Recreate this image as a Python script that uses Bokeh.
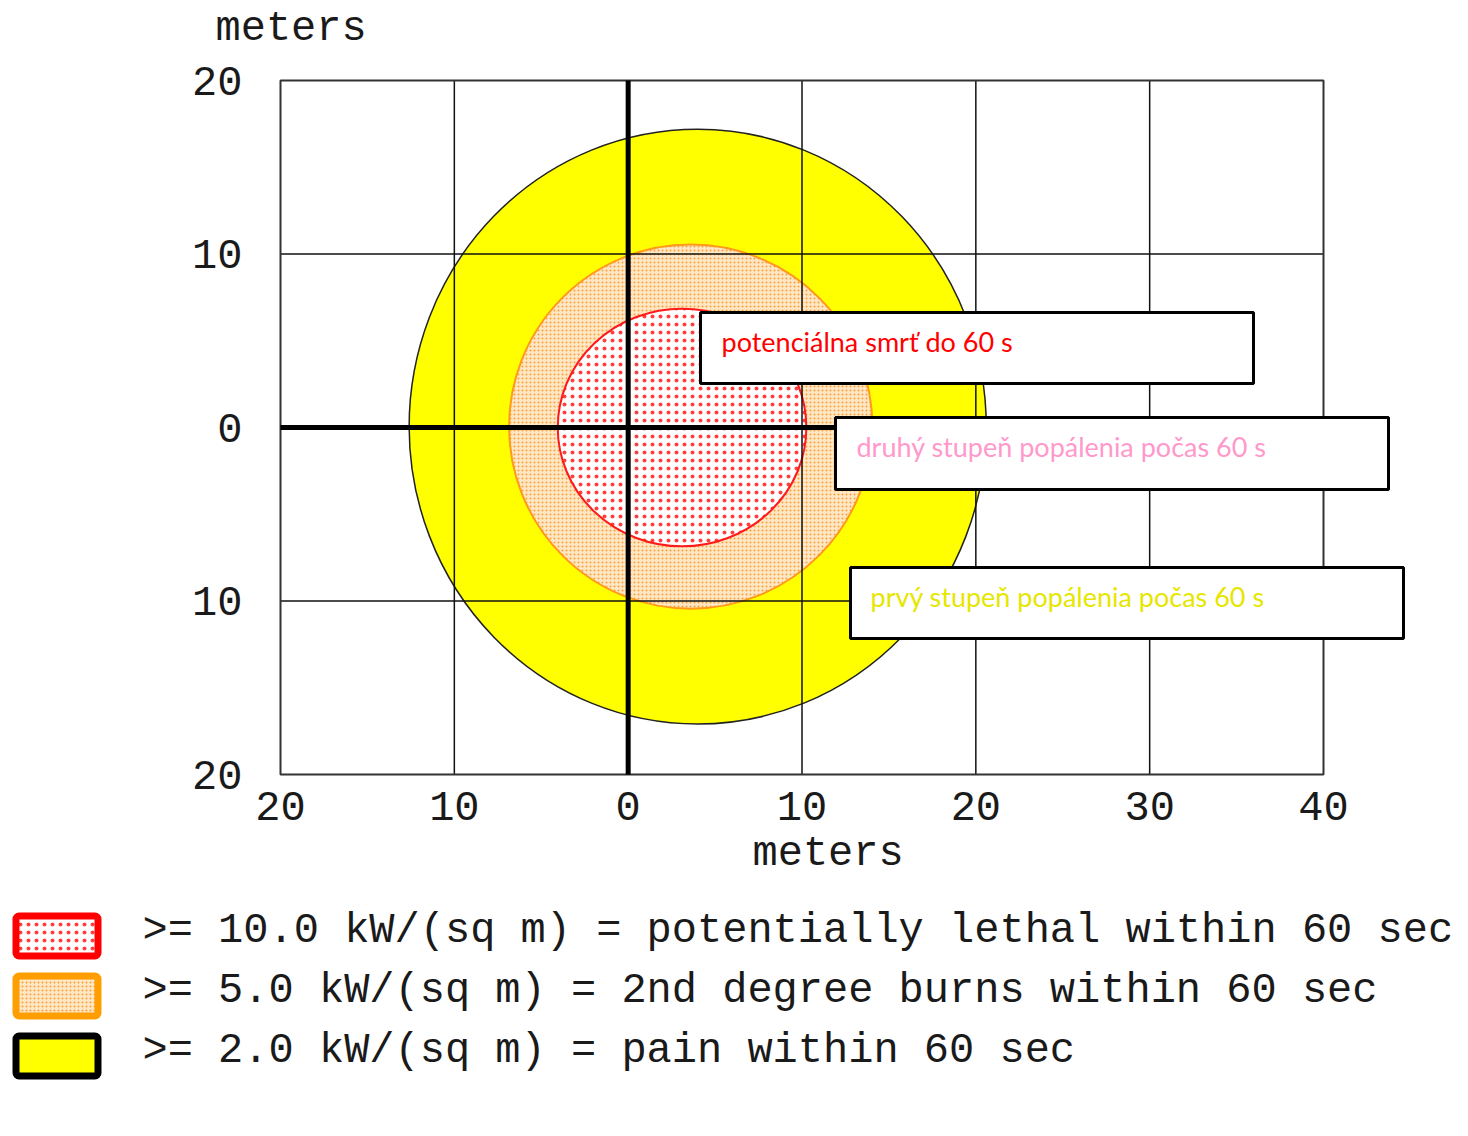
from bokeh.plotting import figure
from bokeh.models import Range1d, Label, BoxAnnotation, FixedTicker, LinearAxis
from bokeh.core.properties import value
from bokeh.embed import file_html
from bokeh.resources import INLINE

# ---------------- data ----------------
x_ticks = [-20, -10, 0, 10, 20, 30, 40]
x_tick_labels = ["20", "10", "0", "10", "20", "30", "40"]
y_ticks = [-20, -10, 0, 10, 20]
y_tick_labels = ["20", "10", "0", "10", "20"]

# threat zones (kW/m2 thresholds), outer to inner, ellipse fits
zone_threshold = [2.0, 5.0, 10.0]
zone_cx = [4.0, 3.6, 3.1]
zone_cy = [0.05, 0.05, 0.0]
zone_width = [33.2, 20.9, 14.3]
zone_height = [34.3, 21.0, 13.7]

legend_texts = [
    ">= 10.0 kW/(sq m) = potentially lethal within 60 sec",
    ">= 5.0 kW/(sq m) = 2nd degree burns within 60 sec",
    ">= 2.0 kW/(sq m) = pain within 60 sec",
]
note_texts = [
    "potenciálna smrť do 60 s",
    "druhý stupeň popálenia počas 60 s",
    "prvý stupeň popálenia počas 60 s",
]
axis_title = "meters"

# ---------------- layout helpers (page pixels -> data) ----------------
W, H = 1460, 1128
FX0, FX40, FY0, FY1 = 280, 1323, 80, 774  # plot box in page pixels
XS = (FX40 - FX0) / 60.0
YS = (FY1 - FY0) / 40.0


def dx(px):
    return -20 + (px - FX0) / XS


def dy(py):
    return 20 - (py - FY0) / YS


MONO = "Liberation Mono"
TXT = "#1a1a1a"

p = figure(
    width=W, height=H, output_backend="svg", toolbar_location=None, title=None,
    x_range=Range1d(dx(0), dx(W)), y_range=Range1d(dy(H), dy(0)),
    x_axis_type=None, y_axis_type=None, min_border=0,
    background_fill_color="white", border_fill_color="white",
)
p.outline_line_color = None

xmin, xmax, ymin, ymax = x_ticks[0], x_ticks[-1], y_ticks[0], y_ticks[-1]

xax = LinearAxis(fixed_location=ymin, bounds=(xmin, xmax))
yax = LinearAxis(fixed_location=xmin, bounds=(ymin, ymax))
p.add_layout(xax, "below")
p.add_layout(yax, "left")
for ax, ticks, labels in ((xax, x_ticks, x_tick_labels), (yax, y_ticks, y_tick_labels)):
    ax.ticker = FixedTicker(ticks=ticks)
    ax.major_label_overrides = {t: l for t, l in zip(ticks, labels)}
    ax.axis_line_color = None
    ax.major_tick_line_color = None
    ax.minor_tick_line_color = None
    ax.major_tick_out = 0
    ax.major_tick_in = 0
    ax.major_label_text_font = MONO
    ax.major_label_text_font_size = "42px"
    ax.major_label_text_color = TXT
xax.major_label_standoff = 17
yax.major_label_standoff = 38

# ---------------- zones ----------------
RED_DOTS = dict(hatch_pattern="dot", hatch_color="#ff4040", hatch_scale=8, hatch_weight=1.4)
ORANGE_DOTS = dict(hatch_pattern="dot", hatch_color="#f7a038", hatch_scale=4, hatch_weight=2.6)
styles = [
    dict(fill_color="#ffff00", line_color="#222222", line_width=1.5),
    dict(fill_color="#ffe6c4", line_color="#ff9a1a", line_width=2, **ORANGE_DOTS),
    dict(fill_color="#ffffff", line_color="#ff1a1a", line_width=2, **RED_DOTS),
]
for i in range(3):
    p.ellipse(x=zone_cx[i], y=zone_cy[i], width=zone_width[i], height=zone_height[i], **styles[i])

# ---------------- grid, frame and bold axes ----------------
inner_x = [t for t in x_ticks if t not in (xmin, 0, xmax)]
inner_y = [t for t in y_ticks if t not in (ymin, 0, ymax)]
g1 = p.segment(x0=inner_x, x1=inner_x, y0=ymin, y1=ymax, line_color="#111111", line_width=1.5)
g2 = p.segment(x0=xmin, x1=xmax, y0=inner_y, y1=inner_y, line_color="#111111", line_width=1.5)
fr = p.quad(left=xmin, right=xmax, bottom=ymin, top=ymax, fill_color=None,
            line_color="#333333", line_width=2)
b1 = p.segment(x0=[0, xmin], x1=[0, xmax], y0=[ymin, 0], y1=[ymax, 0],
               line_color="black", line_width=5)
for r in (g1, g2, fr, b1):
    r.level = "guide"

# axis captions
p.text(x=[dx(215), dx(752)], y=[dy(28), dy(853)], text=[axis_title, axis_title],
       text_font=value(MONO), text_font_size="42px", text_color=TXT,
       text_baseline="middle", text_align="left")

# ---------------- annotation boxes ----------------
note_boxes = [(700, 1253, 312, 383), (835, 1388, 417, 489), (850, 1403, 567, 638)]
note_text_pos = [(721, 341), (856, 446), (870, 596)]
note_colors = ["#ff0000", "#ff99cc", "#e6e600"]
for (l, r, t, b), (tx, ty), c, txt in zip(note_boxes, note_text_pos, note_colors, note_texts):
    p.add_layout(BoxAnnotation(left=dx(l), right=dx(r), top=dy(t), bottom=dy(b),
                               fill_color="white", fill_alpha=1, line_color="black",
                               line_width=3, line_alpha=1))
    p.add_layout(Label(x=dx(tx), y=dy(ty), text=txt, text_color=c, text_font="Lato",
                       text_font_size="27px", text_baseline="middle", text_align="left"))

# ---------------- legend ----------------
leg_styles = [
    dict(line_color="#ff0000", fill_color="white", **RED_DOTS),
    dict(line_color="#ff9e00", fill_color="#ffe6c4", **ORANGE_DOTS),
    dict(line_color="black", fill_color="#ffff00"),
]
for i in range(3):
    top = 915.5 + 60 * i
    p.add_layout(BoxAnnotation(left=dx(15.5), right=dx(97.5), top=dy(top), bottom=dy(top + 40),
                               line_width=7, line_alpha=1, fill_alpha=1, border_radius=3,
                               **leg_styles[i]))
p.text(x=[dx(142)] * 3, y=[dy(930 + 60 * i) for i in range(3)], text=legend_texts,
       text_font=value(MONO), text_font_size="42px", text_color=TXT,
       text_baseline="middle", text_align="left")

open("out.html", "w").write(file_html(p, INLINE))
